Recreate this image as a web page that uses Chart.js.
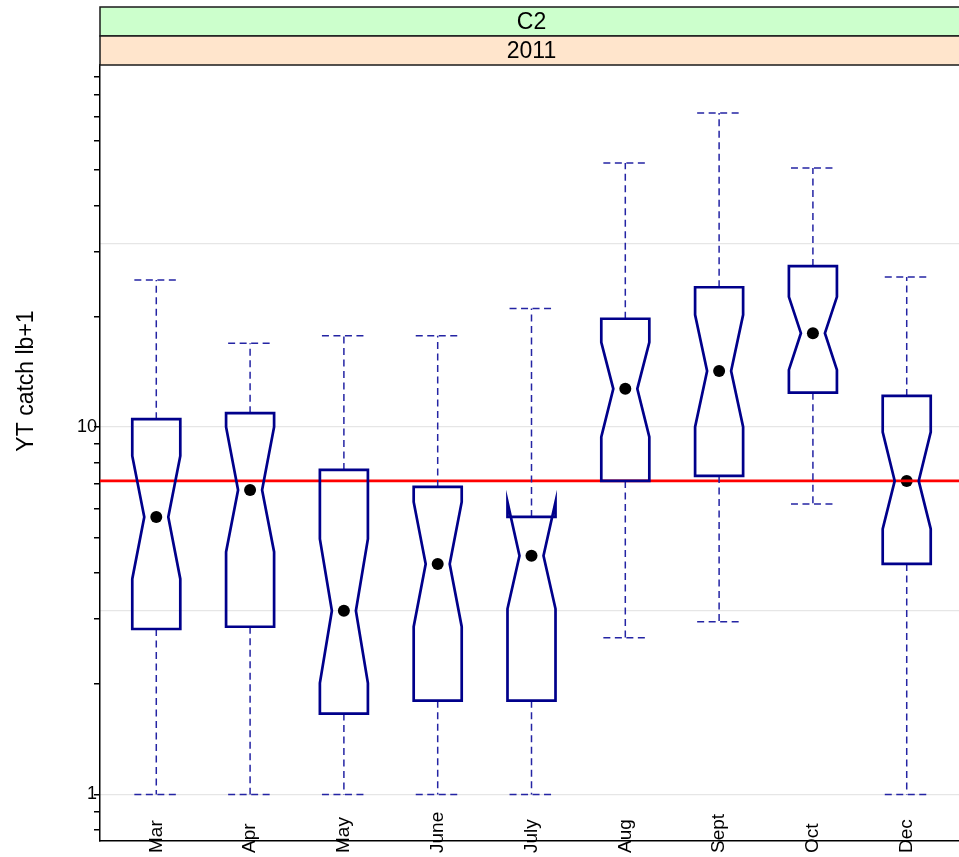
<!DOCTYPE html>
<html>
<head>
<meta charset="utf-8">
<script src="https://cdn.jsdelivr.net/npm/chart.js@4.4.1/dist/chart.umd.min.js"></script>
<style>
  html, body { margin: 0; padding: 0; background: #ffffff; overflow: hidden; width: 959px; height: 857px; }
  #wrap { position: relative; width: 975px; height: 857px; }
  canvas { display: block; }
</style>
</head>
<body>
<div id="wrap"><canvas id="c" width="975" height="857"></canvas></div>
<script>
// ---- data ----
const categories  = ['Mar', 'Apr', 'May', 'June', 'July', 'Aug', 'Sept', 'Oct', 'Dec'];
const whiskerHigh = [25.1, 16.9, 17.7, 17.7, 21.0, 52.3, 71.5, 50.7, 25.6];
const q3          = [10.5, 10.9, 7.64, 6.87, 5.69, 19.7, 24.0, 27.4, 12.15];
const notchHigh   = [8.34, 10.0, 4.96, 6.25, 6.25, 17.0, 20.2, 22.6, 9.69];
const medians     = [5.69, 6.74, 3.16, 4.24, 4.46, 12.7, 14.2, 18.0, 7.13];
const notchLow    = [3.86, 4.57, 2.01, 2.86, 3.20, 9.39, 10.0, 14.3, 5.28];
const q1          = [2.82, 2.86, 1.66, 1.80, 1.80, 7.13, 7.36, 12.4, 4.24];
const whiskerLow  = [1, 1, 1, 1, 1, 2.67, 2.95, 6.17, 1];
const referenceLine = 7.13;

const yTickValues = [0.8, 0.9, 1, 2, 3, 4, 5, 6, 7, 8, 9, 10, 20, 30, 40, 50, 60, 70, 80, 90];
const yTickLabels = { 1: '1', 10: '10' };
const yGridValues = [1, 3.1623, 10, 31.623];
const stripLabels = ['C2', '2011'];
const stripColors = ['#CCFFCC', '#FFE5CC'];
const yTitle = 'YT catch lb+1';
const Y_MIN = 0.747, Y_MAX = 96.6;

const FONT = "'Liberation Sans', Arial, Helvetica, sans-serif";
const BOX_COLOR = '#00008B';
const WHISKER_COLOR = '#2424a4';
const BOX_HALF = 0.256;
const CAP_HALF = 0.234;

const boxPlugin = {
  id: 'boxes',
  afterDatasetDraw(chart, args) {
    if (args.index !== 0) return;
    const ctx = chart.ctx;
    const xs = chart.scales.x, ys = chart.scales.y;
    const area = chart.chartArea;
    ctx.save();
    ctx.beginPath();
    ctx.rect(area.left, area.top, area.right - area.left, area.bottom - area.top);
    ctx.clip();
    categories.forEach((c, i) => {
      const cx = i + 1;
      const X = v => xs.getPixelForValue(v);
      const Y = v => ys.getPixelForValue(v);
      // whiskers
      ctx.strokeStyle = WHISKER_COLOR;
      ctx.lineWidth = 1.5;
      ctx.setLineDash([7, 4.5]);
      ctx.beginPath();
      ctx.moveTo(X(cx), Y(q3[i])); ctx.lineTo(X(cx), Y(whiskerHigh[i]));
      ctx.moveTo(X(cx), Y(q1[i])); ctx.lineTo(X(cx), Y(whiskerLow[i]));
      ctx.stroke();
      ctx.beginPath();
      ctx.moveTo(X(cx - CAP_HALF), Y(whiskerHigh[i])); ctx.lineTo(X(cx + CAP_HALF), Y(whiskerHigh[i]));
      ctx.moveTo(X(cx - CAP_HALF), Y(whiskerLow[i])); ctx.lineTo(X(cx + CAP_HALF), Y(whiskerLow[i]));
      ctx.stroke();
      ctx.setLineDash([]);
      // notched box
      ctx.strokeStyle = BOX_COLOR;
      ctx.lineWidth = 2.7;
      ctx.lineJoin = 'miter';
      ctx.beginPath();
      ctx.moveTo(X(cx - BOX_HALF), Y(q1[i]));
      ctx.lineTo(X(cx - BOX_HALF), Y(notchLow[i]));
      ctx.lineTo(X(cx - BOX_HALF / 2), Y(medians[i]));
      ctx.lineTo(X(cx - BOX_HALF), Y(notchHigh[i]));
      ctx.lineTo(X(cx - BOX_HALF), Y(q3[i]));
      ctx.lineTo(X(cx + BOX_HALF), Y(q3[i]));
      ctx.lineTo(X(cx + BOX_HALF), Y(notchHigh[i]));
      ctx.lineTo(X(cx + BOX_HALF / 2), Y(medians[i]));
      ctx.lineTo(X(cx + BOX_HALF), Y(notchLow[i]));
      ctx.lineTo(X(cx + BOX_HALF), Y(q1[i]));
      ctx.closePath();
      ctx.stroke();
    });
    ctx.restore();
  }
};

const decoPlugin = {
  id: 'deco',
  afterDraw(chart) {
    const ctx = chart.ctx;
    const area = chart.chartArea;
    const xs = chart.scales.x;
    ctx.save();
    // strips
    const stripH = 29;
    stripLabels.forEach((lab, k) => {
      const top = area.top - stripH * (stripLabels.length - k);
      ctx.fillStyle = stripColors[k];
      ctx.fillRect(area.left, top, area.right - area.left, stripH);
      ctx.strokeStyle = '#1a1a1a';
      ctx.lineWidth = 1.5;
      ctx.strokeRect(area.left, top, area.right - area.left, stripH);
      ctx.fillStyle = '#000';
      ctx.font = '23px ' + FONT;
      ctx.textAlign = 'center';
      ctx.textBaseline = 'middle';
      ctx.fillText(lab, (area.left + area.right) / 2, top + stripH / 2 + 1);
    });
    // x labels (rotated)
    ctx.font = '19px ' + FONT;
    ctx.fillStyle = '#000';
    ctx.textAlign = 'left';
    ctx.textBaseline = 'middle';
    categories.forEach((c, i) => {
      ctx.save();
      ctx.translate(xs.getPixelForValue(i + 1), 853);
      ctx.rotate(-Math.PI / 2);
      ctx.fillText(c, 0, 0);
      ctx.restore();
    });
    // y title
    ctx.save();
    ctx.font = '23px ' + FONT;
    ctx.textAlign = 'center';
    ctx.textBaseline = 'middle';
    ctx.translate(27, 381);
    ctx.rotate(-Math.PI / 2);
    ctx.fillText(yTitle, 0, 0);
    ctx.restore();
    ctx.restore();
  }
};

new Chart(document.getElementById('c'), {
  type: 'scatter',
  data: {
    datasets: [
      {
        type: 'line',
        data: [{ x: 0.4, y: referenceLine }, { x: 9.6, y: referenceLine }],
        borderColor: '#FF0000',
        borderWidth: 2.8,
        pointRadius: 0,
        fill: false
      },
      {
        type: 'scatter',
        data: categories.map((c, i) => ({ x: i + 1, y: medians[i] })),
        backgroundColor: '#000000',
        borderColor: '#000000',
        pointRadius: 6,
        pointHoverRadius: 6,
        borderWidth: 0
      }
    ]
  },
  options: {
    responsive: false,
    animation: false,
    devicePixelRatio: 1,
    layout: { padding: { top: 65, bottom: 16, left: 0, right: 12 } },
    plugins: { legend: { display: false }, tooltip: { enabled: false } },
    scales: {
      x: {
        type: 'linear',
        min: 0.4,
        max: 9.6,
        position: 'bottom',
        ticks: { display: false },
        grid: { display: true, drawOnChartArea: false, drawTicks: false },
        border: { display: true, color: '#000', width: 1.5 },
        afterFit(s) { s.height = 0; }
      },
      yg: {
        type: 'logarithmic',
        position: 'left',
        bounds: 'data',
        min: Y_MIN,
        max: Y_MAX,
        afterBuildTicks(s) { s.ticks = yGridValues.map(v => ({ value: v })); s.min = Y_MIN; s.max = Y_MAX; },
        ticks: { display: false },
        grid: { color: '#e6e6e6', lineWidth: 1.2, drawTicks: false },
        border: { display: false },
        afterFit(s) { s.width = 0; }
      },
      y: {
        type: 'logarithmic',
        position: 'left',
        bounds: 'data',
        min: Y_MIN,
        max: Y_MAX,
        afterBuildTicks(s) { s.ticks = yTickValues.map(v => ({ value: v })); s.min = Y_MIN; s.max = Y_MAX; },
        ticks: {
          autoSkip: false,
          padding: -3,
          color: '#000',
          font: { family: FONT, size: 18 },
          callback: (v) => yTickLabels[v] || ''
        },
        grid: { drawOnChartArea: false, drawTicks: true, tickLength: 6, color: '#000', lineWidth: 1.5 },
        border: { display: true, color: '#000', width: 1.5 },
        afterFit(s) { s.width = 100; }
      }
    }
  },
  plugins: [boxPlugin, decoPlugin]
});
</script>
</body>
</html>
